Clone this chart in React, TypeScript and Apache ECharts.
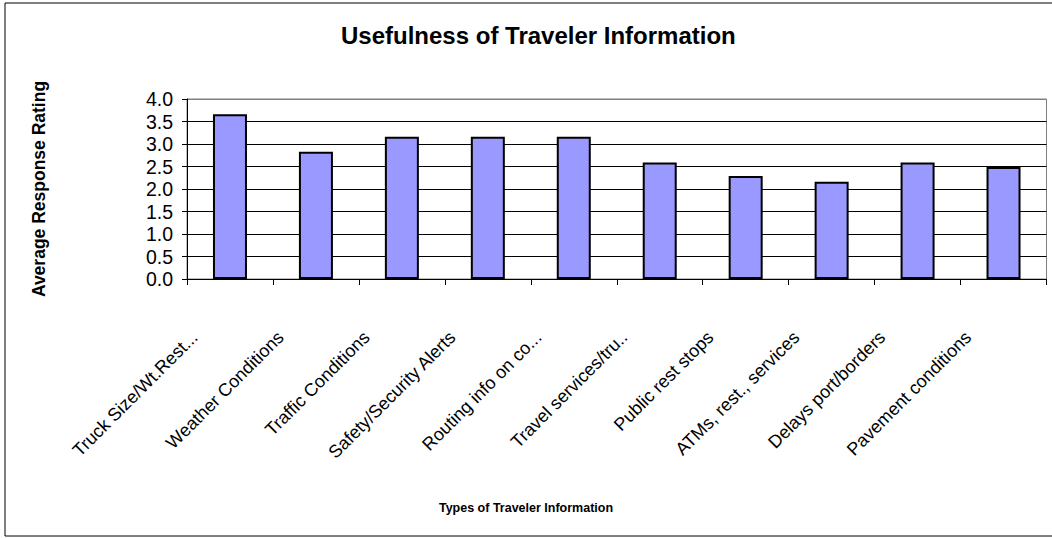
import React, { useEffect, useRef } from "react";
import * as echarts from "echarts";

const categories = [
  "Truck Size/Wt.Rest...",
  "Weather Conditions",
  "Traffic Conditions",
  "Safety/Security Alerts",
  "Routing info on co...",
  "Travel services/tru..",
  "Public rest stops",
  "ATMs, rest., services",
  "Delays port/borders",
  "Pavement conditions",
];
const ratings = [3.66, 2.83, 3.16, 3.16, 3.16, 2.59, 2.29, 2.16, 2.59, 2.49];
const chartTitle = "Usefulness of Traveler Information";
const xTitle = "Types of Traveler Information";
const yTitle = "Average Response Rating";

const FONT = '"Liberation Sans", Arial, sans-serif';

export default function App() {
  const ref = useRef<HTMLDivElement>(null);
  useEffect(() => {
    if (!ref.current) return;
    const chart = echarts.init(ref.current, undefined, { renderer: "svg" });
    chart.setOption({
      animation: false,
      backgroundColor: "#ffffff",
      title: [
        {
          text: chartTitle,
          left: 336,
          top: 18,
          textStyle: { fontFamily: FONT, fontSize: 24, fontWeight: "bold", color: "#000" },
        },
        {
          text: xTitle,
          left: "center",
          top: 496,
          textStyle: { fontFamily: FONT, fontSize: 12.5, fontWeight: "bold", color: "#000" },
        },
      ],
      graphic: [
        {
          type: "rect",
          shape: { x: 5, y: 3, width: 1060, height: 533 },
          style: { fill: "none", stroke: "#000", lineWidth: 1 },
          silent: true,
        },
      ],
      grid: { left: 187, right: 5.5, top: 99, bottom: 259, show: true, borderColor: "#808080", borderWidth: 1 },
      xAxis: {
        type: "category",
        data: categories,
        axisLine: { lineStyle: { color: "#000", width: 1 } },
        axisTick: { show: true, length: 6, lineStyle: { color: "#000" } },
        axisLabel: {
          interval: 0,
          rotate: 45,
          margin: 20,
          padding: [0, 50, 0, 0],
          fontFamily: FONT,
          fontSize: 18,
          color: "#000",
        },
      },
      yAxis: {
        type: "value",
        min: 0,
        max: 4,
        interval: 0.5,
        name: yTitle,
        nameLocation: "middle",
        nameRotate: 90,
        nameGap: 139,
        nameTextStyle: { fontFamily: FONT, fontSize: 17.5, fontWeight: "bold", color: "#000" },
        axisLine: { show: true, lineStyle: { color: "#000", width: 1 } },
        axisTick: { show: true, length: 5, lineStyle: { color: "#000" } },
        axisLabel: {
          margin: 14,
          fontFamily: FONT,
          fontSize: 19.5,
          color: "#000",
          formatter: (v: number) => v.toFixed(1),
        },
        splitLine: {
          show: true,
          lineStyle: {
            color: ["#000", "#000", "#000", "#000", "#000", "#000", "#000", "#000", "#808080"],
            width: 1,
          },
        },
      },
      series: [
        {
          type: "bar",
          data: ratings,
          barWidth: 34,
          itemStyle: { color: "#9999FF", borderColor: "#000", borderWidth: 2 },
        },
      ],
    });
    return () => chart.dispose();
  }, []);
  return (
    <div
      ref={ref}
      style={{ position: "fixed", left: 0, top: 0, width: 1052, height: 538 }}
    />
  );
}
